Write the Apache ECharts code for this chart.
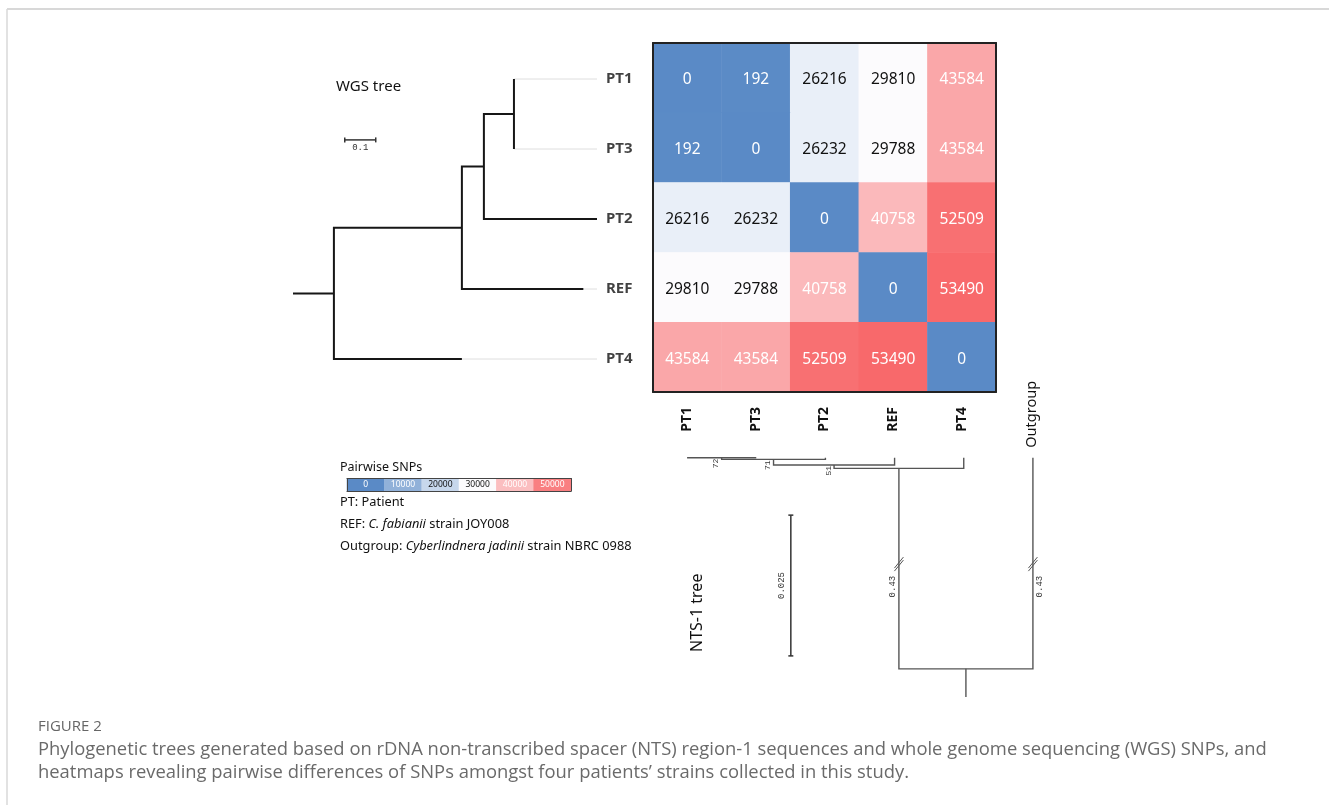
<!DOCTYPE html>
<html><head><meta charset="utf-8">
<script src="https://cdn.jsdelivr.net/npm/echarts@6/dist/echarts.min.js"></script>
<style>html,body{margin:0;padding:0;background:#fff}#c{width:1329px;height:805px}</style>
</head><body><div id="c"></div>
<script>
// ---------------- DATA ----------------
const taxa = ['PT1', 'PT3', 'PT2', 'REF', 'PT4'];
const snpPT1 = [0, 192, 26216, 29810, 43584];
const snpPT3 = [192, 0, 26232, 29788, 43584];
const snpPT2 = [26216, 26232, 0, 40758, 52509];
const snpREF = [29810, 29788, 40758, 0, 53490];
const snpPT4 = [43584, 43584, 52509, 53490, 0];
const legendTicks = [0, 10000, 20000, 30000, 40000, 50000];
const wgsTreeNewick = '((((PT1:0,PT3:0):0.097,PT2:0.365):0.071,REF:0.392):0.413,PT4:0.413):0.132;';
const ntsTreeNewick = '(((((PT1:0,PT3:0)72:0.0003,PT2:0.0003)71:0.001,REF:0.0013)51:0.0006,PT4:0.0019):0.43,Outgroup:0.43):0.005;';
const wgsScaleLen = 0.1;
const ntsScaleLen = 0.025;

// ---------------- HELPERS ----------------
function parseNewick(s) {
  let i = 0;
  function node() {
    const n = { children: [], name: '', len: 0 };
    if (s[i] === '(') {
      i++;
      n.children.push(node());
      while (s[i] === ',') { i++; n.children.push(node()); }
      i++;
    }
    let name = '';
    while (i < s.length && !':,();'.includes(s[i])) name += s[i++];
    n.name = name;
    if (s[i] === ':') {
      i++; let l = '';
      while (i < s.length && !',();'.includes(s[i])) l += s[i++];
      n.len = parseFloat(l);
    }
    return n;
  }
  return node();
}

// heatmap matrix
const snpMatrix = [snpPT1, snpPT3, snpPT2, snpREF, snpPT4];
const allVals = [].concat(...snpMatrix).slice().sort((a, b) => a - b);
const vMin = allVals[0], vMax = allVals[allVals.length - 1];
const vMid = allVals[Math.floor(allVals.length / 2)];
const lowC = [90, 138, 198], midC = [253, 253, 255], highC = [248, 105, 107];
function scaleColor(v) {
  let a, b, t;
  if (v <= vMid) { a = lowC; b = midC; t = (v - vMin) / (vMid - vMin); }
  else { a = midC; b = highC; t = (v - vMid) / (vMax - vMid); }
  const c = a.map((x, k) => Math.round(x + (b[k] - x) * t));
  return 'rgb(' + c.join(',') + ')';
}
const colorStops = [];
for (let k = 0; k <= 60; k++) colorStops.push(scaleColor(vMin + (vMax - vMin) * k / 60));
const isLight = v => v >= 15000 && v <= 35000;

const heatData = [];
snpMatrix.forEach((row, r) => row.forEach((v, c) => heatData.push({
  value: [c, r, v], label: { color: isLight(v) ? '#111' : '#fff' }
})));
const legendData = legendTicks.map((v, i) => ({ value: [i, 0, v], label: { color: isLight(v) ? '#111' : '#fff' } }));

// WGS tree layout (horizontal)
const wgsRoot = parseNewick(wgsTreeNewick);
const wgsLeaves = [], wgsInternal = [];
(function walk(n, x) {
  n.x = x;
  if (!n.children.length) { n.y = wgsLeaves.length; wgsLeaves.push(n); }
  else {
    n.children.forEach(c => walk(c, x + c.len));
    n.y = (n.children[0].y + n.children[n.children.length - 1].y) / 2;
    wgsInternal.push(n);
  }
})(wgsRoot, 0);
const wgsMaxX = Math.max(...wgsLeaves.map(l => l.x));
const wgsBranches = wgsInternal.map(n => {
  const a = n.children[0], b = n.children[n.children.length - 1];
  return { coords: [[a.x, a.y], [n.x, a.y], [n.x, b.y], [b.x, b.y]] };
});
wgsBranches.push({ coords: [[-wgsRoot.len, wgsRoot.y], [0, wgsRoot.y]] });
const wgsGuides = wgsLeaves.filter(l => l.x < wgsMaxX).map(l => ({ coords: [[l.x, l.y], [wgsMaxX, l.y]] }));
const wgsTips = wgsLeaves.map(l => [wgsMaxX, l.y, l.name]);

// NTS tree layout (vertical, tips on top)
const BREAK_AT = 0.1, BREAK_SHOWN = 0.0356;
const ntsRoot = parseNewick(ntsTreeNewick);
const ntsLeaves = [], ntsInternal = [], ntsBroken = [];
(function walk(n) {
  if (!n.children.length) { n.x = ntsLeaves.length; n.h = 0; ntsLeaves.push(n); return; }
  n.children.forEach(walk);
  const first = n.children[0], last = n.children[n.children.length - 1];
  n.x = (first.x + last.x) / 2;
  n.h = Math.max(...n.children.map(c => c.h + (c.len > BREAK_AT ? BREAK_SHOWN : c.len)));
  ntsInternal.push(n);
  n.children.forEach(c => {
    if (c.len > BREAK_AT) ntsBroken.push([c.x, n.h - BREAK_SHOWN * 0.53, c.len, c === last ? 1 : 0]);
  });
})(ntsRoot);
const ntsBranches = ntsInternal.map(n => {
  const a = n.children[0], b = n.children[n.children.length - 1];
  return { coords: [[a.x, a.h], [a.x, n.h], [b.x, n.h], [b.x, b.h]] };
});
ntsBranches.push({ coords: [[ntsRoot.x, ntsRoot.h], [ntsRoot.x, ntsRoot.h + ntsRoot.len]] });
const ntsSupports = ntsInternal.filter(n => n.name).map(n => [n.x, n.h, n.name]);
const ntsOutLeaves = ntsLeaves.filter(l => taxa.indexOf(l.name) < 0).map(l => [l.x, l.h, l.name]);

// ---------------- CHART ----------------
const FONT = '"Noto Sans", "DejaVu Sans", sans-serif';
const MONO = '"Liberation Mono", "DejaVu Sans Mono", monospace';
const CAP = '"Open Sans", "Noto Sans", sans-serif';
const chart = echarts.init(document.getElementById('c'), null, { renderer: 'canvas', width: 1329, height: 805 });

const borderLine = (c, w) => ({ show: true, lineStyle: { color: c, width: w } });

const option = {
  backgroundColor: '#fff',
  animation: false,
  grid: [
    { left: 653, top: 43, width: 343, height: 349 },          // heatmap
    { left: 293, top: 44, width: 304, height: 350 },          // WGS tree
    { left: 652.5, top: 457.7, width: 415, height: 239.3 },   // NTS tree
    { left: 347, top: 478.5, width: 224, height: 12.5 }       // colour legend
  ],
  xAxis: [
    { type: 'category', gridIndex: 0, data: taxa, position: 'bottom', z: 10,
      axisLine: borderLine('#222', 2), axisTick: { show: false },
      axisLabel: { rotate: 90, margin: 15, interval: 0, color: '#111', fontSize: 14, fontWeight: 'bold', fontFamily: FONT } },
    { type: 'category', gridIndex: 0, data: taxa, position: 'top', z: 10,
      axisLine: borderLine('#222', 2), axisTick: { show: false }, axisLabel: { show: false } },
    { type: 'value', gridIndex: 1, show: false, min: -wgsRoot.len, max: wgsMaxX },
    { type: 'value', gridIndex: 2, show: false, min: -0.5, max: ntsLeaves.length - 0.5 },
    { type: 'category', gridIndex: 3, data: legendTicks, position: 'bottom', z: 10,
      axisLine: borderLine('#444', 1), axisTick: { show: false }, axisLabel: { show: false } },
    { type: 'category', gridIndex: 3, data: legendTicks, position: 'top', z: 10,
      axisLine: borderLine('#444', 1), axisTick: { show: false }, axisLabel: { show: false } }
  ],
  yAxis: [
    { type: 'category', gridIndex: 0, data: taxa, inverse: true, position: 'left', z: 10,
      axisLine: borderLine('#222', 2), axisTick: { show: false }, axisLabel: { show: false } },
    { type: 'category', gridIndex: 0, data: taxa, inverse: true, position: 'right', z: 10,
      axisLine: borderLine('#222', 2), axisTick: { show: false }, axisLabel: { show: false } },
    { type: 'value', gridIndex: 1, show: false, inverse: true, min: -0.5, max: wgsLeaves.length - 0.5 },
    { type: 'value', gridIndex: 2, show: false, inverse: true, min: 0, max: ntsRoot.h + ntsRoot.len },
    { type: 'category', gridIndex: 3, data: [''], position: 'left', z: 10,
      axisLine: borderLine('#444', 1), axisTick: { show: false }, axisLabel: { show: false } },
    { type: 'category', gridIndex: 3, data: [''], position: 'right', z: 10,
      axisLine: borderLine('#444', 1), axisTick: { show: false }, axisLabel: { show: false } }
  ],
  visualMap: {
    type: 'continuous', show: false, min: vMin, max: vMax, dimension: 2, seriesIndex: [0, 1],
    inRange: { color: colorStops }
  },
  series: [
    { type: 'heatmap', xAxisIndex: 0, yAxisIndex: 0, data: heatData, silent: true,
      itemStyle: { borderWidth: 0 },
      label: { show: true, formatter: p => p.value[2], fontSize: 15.5, fontFamily: FONT, offset: [0, 2] } },
    { type: 'heatmap', xAxisIndex: 4, yAxisIndex: 4, data: legendData, silent: true,
      label: { show: true, formatter: p => p.value[2], fontSize: 8.5, fontFamily: FONT } },
    { type: 'lines', coordinateSystem: 'cartesian2d', xAxisIndex: 2, yAxisIndex: 2, polyline: true, silent: true,
      lineStyle: { color: '#dedede', width: 1, opacity: 1 }, data: wgsGuides, z: 2 },
    { type: 'lines', coordinateSystem: 'cartesian2d', xAxisIndex: 2, yAxisIndex: 2, polyline: true, silent: true,
      lineStyle: { color: '#161616', width: 2, opacity: 1, join: 'miter' }, data: wgsBranches, z: 3 },
    { type: 'scatter', xAxisIndex: 2, yAxisIndex: 2, symbolSize: 0, silent: true, data: wgsTips,
      label: { show: true, position: 'right', distance: 9, formatter: p => p.value[2],
        color: '#111', fontSize: 15, fontWeight: 'bold', fontFamily: FONT } },
    { type: 'custom', xAxisIndex: 2, yAxisIndex: 2, silent: true, data: [[0.035, 0.87]],
      renderItem: (params, api) => {
        const p0 = api.coord([api.value(0), api.value(1)]);
        const p1 = api.coord([api.value(0) + wgsScaleLen, api.value(1)]);
        const st = { stroke: '#333', lineWidth: 1.5 };
        return { type: 'group', children: [
          { type: 'line', shape: { x1: p0[0], y1: p0[1], x2: p1[0], y2: p1[1] }, style: st },
          { type: 'line', shape: { x1: p0[0], y1: p0[1] - 2.5, x2: p0[0], y2: p0[1] + 2.5 }, style: st },
          { type: 'line', shape: { x1: p1[0], y1: p1[1] - 2.5, x2: p1[0], y2: p1[1] + 2.5 }, style: st },
          { type: 'text', x: (p0[0] + p1[0]) / 2, y: p0[1] + 8,
            style: { text: String(wgsScaleLen), fill: '#333', font: '9px ' + MONO, align: 'center', verticalAlign: 'middle' } }
        ] };
      } },
    { type: 'lines', coordinateSystem: 'cartesian2d', xAxisIndex: 3, yAxisIndex: 3, polyline: true, silent: true,
      lineStyle: { color: '#555', width: 1.4, opacity: 1, join: 'miter' }, data: ntsBranches, z: 3 },
    { type: 'custom', xAxisIndex: 3, yAxisIndex: 3, silent: true, data: ntsBroken, z: 4,
      renderItem: (params, api) => {
        const p = api.coord([api.value(0), api.value(1)]);
        const right = api.value(3) === 1;
        const st = { stroke: '#555', lineWidth: 1 };
        return { type: 'group', children: [
          { type: 'line', shape: { x1: p[0] - 4.5, y1: p[1] + 5.5, x2: p[0] + 4.5, y2: p[1] - 5.5 }, style: st },
          { type: 'line', shape: { x1: p[0] - 4.5, y1: p[1] + 8.5, x2: p[0] + 4.5, y2: p[1] - 2.5 }, style: st },
          { type: 'text', x: p[0] + (right ? 7 : -6), y: p[1] + 24, rotation: Math.PI / 2,
            style: { text: String(api.value(2)), fill: '#333', font: '9px ' + MONO, align: 'center', verticalAlign: 'middle' } }
        ] };
      } },
    { type: 'custom', xAxisIndex: 3, yAxisIndex: 3, silent: true, data: ntsSupports, z: 4,
      renderItem: (params, api) => {
        const p = api.coord([api.value(0), api.value(1)]);
        return { type: 'text', x: p[0] - 5.5, y: p[1] + 1, rotation: Math.PI / 2,
          style: { text: ntsSupports[params.dataIndex][2], fill: '#333', font: '8px ' + MONO, align: 'right', verticalAlign: 'middle' } };
      } },
    { type: 'custom', xAxisIndex: 3, yAxisIndex: 3, silent: true, data: ntsOutLeaves, z: 4,
      renderItem: (params, api) => {
        const p = api.coord([api.value(0), api.value(1)]);
        return { type: 'text', x: p[0] - 1, y: p[1] - 10, rotation: Math.PI / 2,
          style: { text: ntsOutLeaves[params.dataIndex][2], fill: '#111', font: '14.5px ' + FONT, align: 'left', verticalAlign: 'middle' } };
      } },
    { type: 'custom', xAxisIndex: 3, yAxisIndex: 3, silent: true, data: [[1.5, 0.0102]], z: 4,
      renderItem: (params, api) => {
        const p0 = api.coord([api.value(0), api.value(1)]);
        const p1 = api.coord([api.value(0), api.value(1) + ntsScaleLen]);
        const st = { stroke: '#333', lineWidth: 1.5 };
        return { type: 'group', children: [
          { type: 'line', shape: { x1: p0[0], y1: p0[1], x2: p1[0], y2: p1[1] }, style: st },
          { type: 'line', shape: { x1: p0[0] - 2.5, y1: p0[1], x2: p0[0] + 2.5, y2: p0[1] }, style: st },
          { type: 'line', shape: { x1: p1[0] - 2.5, y1: p1[1], x2: p1[0] + 2.5, y2: p1[1] }, style: st },
          { type: 'text', x: p0[0] - 9, y: (p0[1] + p1[1]) / 2, rotation: Math.PI / 2,
            style: { text: String(ntsScaleLen), fill: '#333', font: '9px ' + MONO, align: 'center', verticalAlign: 'middle' } }
        ] };
      } }
  ],
  graphic: [
    { type: 'line', shape: { x1: 7, y1: 9, x2: 1329, y2: 9 }, style: { stroke: '#d8d8d8', lineWidth: 2 } },
    { type: 'line', shape: { x1: 7, y1: 9, x2: 7, y2: 805 }, style: { stroke: '#d8d8d8', lineWidth: 1.5 } },
    { type: 'text', x: 336, y: 87, style: { text: 'WGS tree', fill: '#111', font: '15px ' + FONT, verticalAlign: 'middle' } },
    { type: 'text', x: 697, y: 652, rotation: Math.PI / 2,
      style: { text: 'NTS-1 tree', fill: '#111', font: '16px ' + FONT, align: 'left', verticalAlign: 'middle' } },
    { type: 'text', x: 340, y: 467, style: { text: 'Pairwise SNPs', fill: '#111', font: '12.5px ' + FONT, verticalAlign: 'middle' } },
    { type: 'text', x: 340, y: 502, style: { text: 'PT: Patient', fill: '#111', font: '12.8px ' + FONT, verticalAlign: 'middle' } },
    { type: 'text', x: 340, y: 524, style: {
        text: '{n|REF: }{i|C. fabianii}{n| strain JOY008}', verticalAlign: 'middle',
        rich: { n: { fill: '#111', font: '12.8px ' + FONT }, i: { fill: '#111', font: 'italic 12.8px ' + FONT } } } },
    { type: 'text', x: 340, y: 546, style: {
        text: '{n|Outgroup: }{i|Cyberlindnera jadinii}{n| strain NBRC 0988}', verticalAlign: 'middle',
        rich: { n: { fill: '#111', font: '12.8px ' + FONT }, i: { fill: '#111', font: 'italic 12.8px ' + FONT } } } },
    { type: 'text', x: 38, y: 727, style: { text: 'FIGURE 2', fill: '#666', font: '15px ' + CAP, verticalAlign: 'middle' } },
    { type: 'text', x: 38, y: 750, style: { text: 'Phylogenetic trees generated based on rDNA non-transcribed spacer (NTS) region-1 sequences and whole genome sequencing (WGS) SNPs, and', fill: '#6a6a6a', font: '18.4px ' + CAP, verticalAlign: 'middle' } },
    { type: 'text', x: 38, y: 773, style: { text: 'heatmaps revealing pairwise differences of SNPs amongst four patients\u2019 strains collected in this study.', fill: '#6a6a6a', font: '18.4px ' + CAP, verticalAlign: 'middle' } }
  ]
};
chart.setOption(option);
</script></body></html>
